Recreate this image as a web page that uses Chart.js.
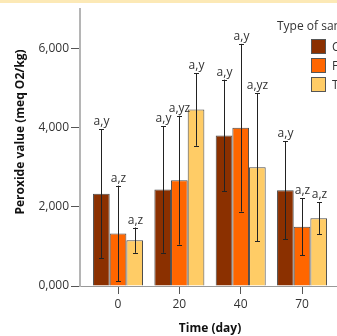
<!DOCTYPE html>
<html>
<head>
<meta charset="utf-8">
<script src="https://cdn.jsdelivr.net/npm/chart.js@4.4.0/dist/chart.umd.min.js"></script>
<style>
  html, body { margin: 0; padding: 0; background: #fff; overflow: hidden; }
  #wrap { position: relative; width: 337px; height: 336px; }
  #band { position: absolute; left: 0; top: 0; width: 337px; height: 3px; background: #fce9b6; }
  #legend { position: absolute; left: 277px; top: 17px; font: 12px "Open Sans", sans-serif; color: #333; white-space: nowrap; }
  #legend .row { display: flex; align-items: center; height: 19px; margin-left: 34px; }
  #legend .box { width: 13px; height: 13px; border: 1px solid #555; margin-right: 6px; }
</style>
</head>
<body>
<div id="wrap">
  <canvas id="grafico" width="337" height="336"></canvas>
  <div id="band"></div>
  <div id="legend"><div style="height:20px;line-height:18px">Type of sample</div></div>
</div>
<script>
// dati
const giorni = ["0", "20", "40", "70"];
const tipi = ["Control", "Fermented", "Treated"];
const mediaC = [2333, 2441, 3808, 2424];
const mediaF = [1328, 2677, 4003, 1498];
const mediaT = [1159, 4465, 3006, 1715];
const erroreC = [1630, 1600, 1410, 1236];
const erroreF = [1210, 1630, 2120, 726];
const erroreT = [320, 920, 1876, 400];
const lettereC = ["a,y", "a,y", "a,y", "a,y"];
const lettereF = ["a,z", "a,yz", "a,y", "a,z"];
const lettereT = ["a,z", "a,y", "a,yz", "a,z"];
const tickY = [0, 2000, 4000, 6000];

const colori = ["#8b3000", "#ff6600", "#ffcc66"];
const font = '"Open Sans", sans-serif';

Chart.defaults.font.family = font;
Chart.defaults.font.size = 12;
Chart.defaults.color = "#333";

const punti = (valori) => valori.map((v, i) => ({ x: i, y: v }));

const creaSerie = (nome, medie, errori, lettere, colore) => ({
    label: nome,
    data: punti(medie),
    errori: errori,
    lettere: lettere,
    backgroundColor: colore,
    borderColor: "#4a4a4a",
    borderWidth: 1,
    categoryPercentage: 0.815,
    barPercentage: 1.0,
});

// barre di errore e lettere sopra
const barreErrore = {
    id: "barreErrore",
    afterDatasetsDraw(chart) {
        const ctx = chart.ctx;
        const y = chart.scales.y;
        ctx.save();
        chart.data.datasets.forEach((ds, di) => {
            const meta = chart.getDatasetMeta(di);
            meta.data.forEach((bar, i) => {
                const v = ds.data[i].y;
                const e = ds.errori[i];
                const sopra = y.getPixelForValue(v + e);
                const sotto = y.getPixelForValue(v - e);
                const x = Math.round(bar.x) + 0.5;
                ctx.strokeStyle = "#222";
                ctx.lineWidth = 1;
                ctx.beginPath();
                ctx.moveTo(x, sopra);
                ctx.lineTo(x, sotto);
                ctx.moveTo(x - 2.5, Math.round(sopra) + 0.5);
                ctx.lineTo(x + 2.5, Math.round(sopra) + 0.5);
                ctx.moveTo(x - 2.5, Math.round(sotto) + 0.5);
                ctx.lineTo(x + 2.5, Math.round(sotto) + 0.5);
                ctx.stroke();
                ctx.fillStyle = "#333";
                ctx.font = "12px " + font;
                ctx.textAlign = "center";
                ctx.textBaseline = "alphabetic";
                ctx.fillText(ds.lettere[i], x, sopra - 4);
            });
        });
        ctx.restore();
    },
};

// titoli degli assi
const titoli = {
    id: "titoli",
    afterDraw(chart) {
        const ctx = chart.ctx;
        ctx.save();
        ctx.fillStyle = "#111";
        ctx.font = "bold 12px " + font;
        ctx.textAlign = "center";
        ctx.textBaseline = "middle";
        ctx.fillText("Time (day)", 210, 329);
        ctx.translate(21, 132);
        ctx.rotate(-Math.PI / 2);
        ctx.fillText("Peroxide value (meq O2/kg)", 0, 0);
        ctx.restore();
    },
};

new Chart(document.getElementById("grafico"), {
    type: "bar",
    data: {
        datasets: [
            creaSerie(tipi[0], mediaC, erroreC, lettereC, colori[0]),
            creaSerie(tipi[1], mediaF, erroreF, lettereF, colori[1]),
            creaSerie(tipi[2], mediaT, erroreT, lettereT, colori[2]),
        ],
    },
    options: {
        responsive: false,
        animation: false,
        layout: { padding: { top: 9, left: 0, right: 0, bottom: 0 } },
        plugins: { legend: { display: false }, tooltip: { enabled: false } },
        scales: {
            x: {
                type: "linear",
                offset: false,
                min: -0.62,
                max: 3.57,
                afterBuildTicks: (s) => { s.ticks = giorni.map((g, i) => ({ value: i })); },
                afterFit: (s) => { s.height = 50; },
                ticks: {
                    padding: 3,
                    callback: (v) => giorni[v],
                },
                grid: { offset: false, drawOnChartArea: false, tickLength: 8, tickColor: "#555" },
                border: { color: "#999", width: 1 },
            },
            y: {
                min: 0,
                max: 7000,
                afterBuildTicks: (s) => { s.ticks = tickY.map((v) => ({ value: v })); },
                afterFit: (s) => { s.width = 80; },
                ticks: {
                    padding: 2,
                    callback: (v) => (v === 0 ? "0,000" : v.toLocaleString("en-US")),
                },
                grid: { drawOnChartArea: false, tickLength: 9, tickColor: "#555" },
                border: { color: "#b5b5b5", width: 2 },
            },
        },
    },
    plugins: [barreErrore, titoli],
});

// legenda html
const legenda = document.getElementById("legend");
tipi.forEach((t, i) => {
    const riga = document.createElement("div");
    riga.className = "row";
    riga.innerHTML = '<span class="box" style="background:' + colori[i] + '"></span>' + t;
    legenda.appendChild(riga);
});
</script>
</body>
</html>
